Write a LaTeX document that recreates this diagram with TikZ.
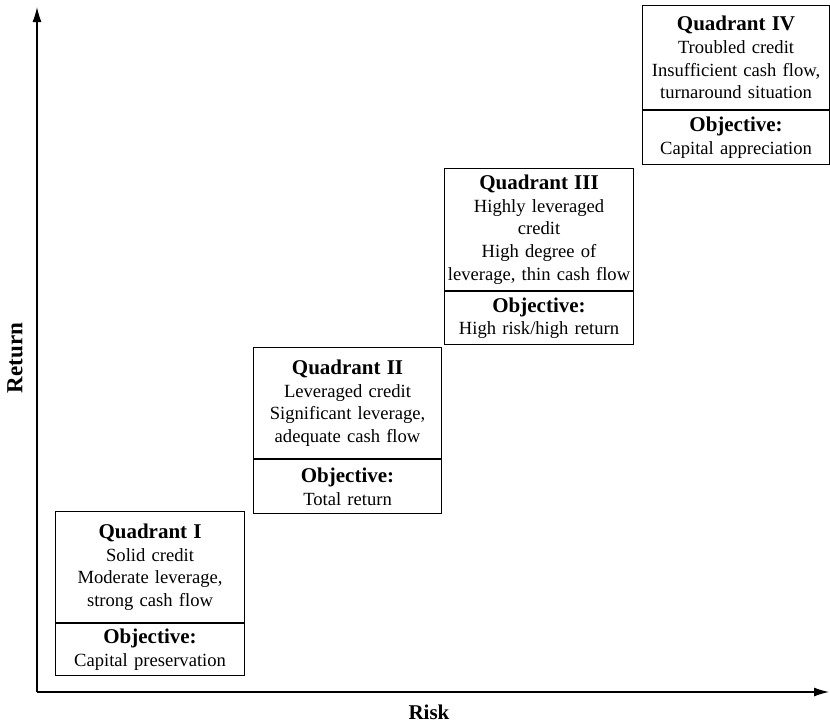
\documentclass[tikz,border=0pt]{standalone}
\usepackage{fontspec}
\setmainfont{Liberation Serif}
\usetikzlibrary{arrows.meta}
\newcommand\bodyfont{\fontsize{18.6}{22.6}\selectfont}
\newcommand\headfont{\fontsize{21}{24}\selectfont\bfseries}
\begin{document}
\begin{tikzpicture}[x=1pt,y=-1pt,
  panel/.style={draw, line width=1.1pt, inner sep=0pt, anchor=north west,
                align=center, font=\bodyfont},
  axis/.style={line width=1.2pt, -{Latex[length=15pt,width=9pt]}},
  axislabel/.style={font=\headfont, inner sep=0pt}]
\useasboundingbox (0,0) rectangle (830,726);

% axes
\coordinate (o) at (37,692);
\coordinate (ytip) at (37,7);
\coordinate (xtip) at (829,692);
\draw[axis] (o) -- (ytip);
\draw[axis] (o) -- (xtip);
\node[axislabel, rotate=90, font=\fontsize{23}{26}\selectfont\bfseries] (ret) at (15,358) {Return};
\node[axislabel] (risk) at (429,712) {Risk};

% Quadrant I
\node[panel, text width=189pt, minimum height=111pt] (q1) at (55,511)
  {{\headfont Quadrant I}\\Solid credit\\Moderate leverage,\\strong cash flow};
\node[panel, text width=189pt, minimum height=52pt] (o1) at (q1.south west)
  {{\headfont Objective:}\\Capital preservation};

% Quadrant II
\node[panel, text width=188pt, minimum height=111pt] (q2) at (253,347)
  {{\headfont Quadrant II}\\Leveraged credit\\Significant leverage,\\adequate cash flow};
\node[panel, text width=188pt, minimum height=54pt] (o2) at (q2.south west)
  {{\headfont Objective:}\\Total return};

% Quadrant III
\node[panel, text width=189pt, minimum height=122pt] (q3) at (444,168)
  {{\headfont Quadrant III}\\Highly leveraged\\credit\\High degree of\\leverage, thin cash flow};
\node[panel, text width=189pt, minimum height=53pt] (o3) at (q3.south west)
  {{\headfont Objective:}\\High risk/high return};

% Quadrant IV
\node[panel, text width=187pt, minimum height=104pt] (q4) at (642,5)
  {{\headfont Quadrant IV}\\Troubled credit\\Insufficient cash flow,\\turnaround situation};
\node[panel, text width=187pt, minimum height=54pt] (o4) at (q4.south west)
  {{\headfont Objective:}\\Capital appreciation};
\end{tikzpicture}
\end{document}
